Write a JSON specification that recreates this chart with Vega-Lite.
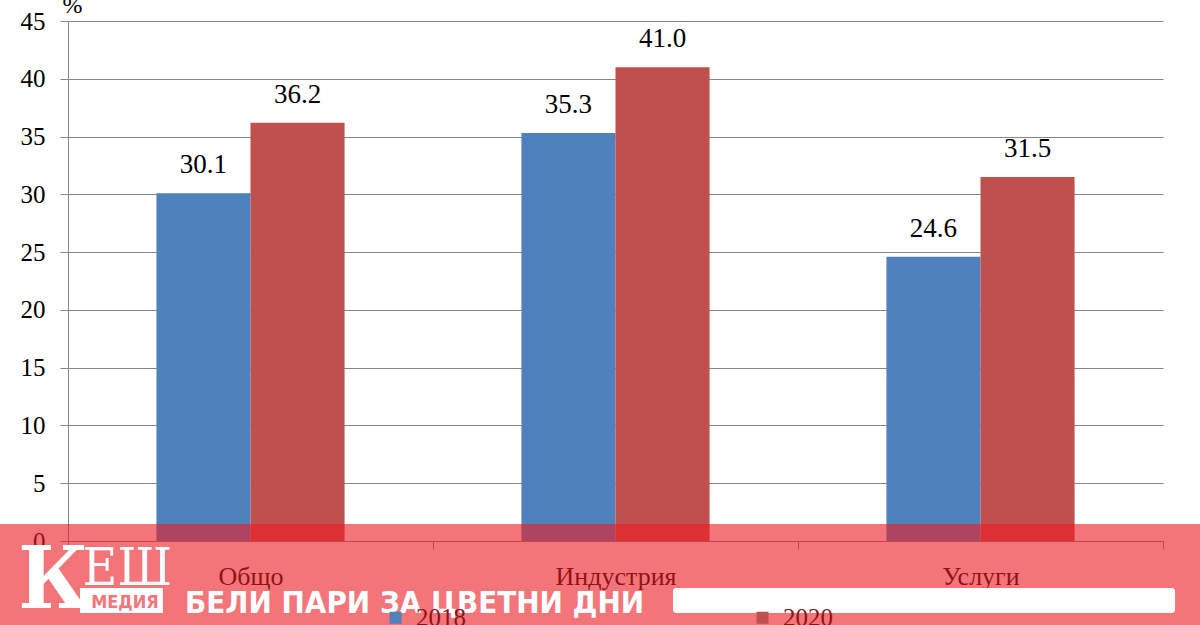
{
  "$schema": "https://vega.github.io/schema/vega-lite/v6.json",
  "width": 1095,
  "height": 520,
  "autosize": "none",
  "padding": {"left": 68, "top": 21, "right": 37, "bottom": 84},
  "background": "white",
  "config": {
    "view": {"stroke": null},
    "font": "Liberation Serif, Times New Roman, serif"
  },
  "data": {
    "values": [
      {"sector": "Общо", "year": "2018", "share": 30.1},
      {"sector": "Общо", "year": "2020", "share": 36.2},
      {"sector": "Индустрия", "year": "2018", "share": 35.3},
      {"sector": "Индустрия", "year": "2020", "share": 41.0},
      {"sector": "Услуги", "year": "2018", "share": 24.6},
      {"sector": "Услуги", "year": "2020", "share": 31.5}
    ]
  },
  "layer": [
    {
      "encoding": {
        "x": {
          "field": "sector",
          "type": "nominal",
          "sort": ["Общо", "Индустрия", "Услуги"],
          "scale": {"paddingInner": 0, "paddingOuter": 0},
          "axis": {
            "title": null,
            "labelAngle": 0,
            "labelFont": "Liberation Serif, Times New Roman, serif",
            "labelFontSize": 26,
            "labelColor": "black",
            "labelPadding": 14,
            "tickBand": "extent",
            "tickSize": 8,
            "tickColor": "#868686",
            "domainColor": "#868686",
            "grid": false
          }
        },
        "xOffset": {
          "field": "year",
          "type": "nominal",
          "scale": {"paddingInner": 0, "paddingOuter": 0.94}
        },
        "y": {
          "field": "share",
          "type": "quantitative",
          "scale": {"domain": [0, 45], "nice": false},
          "axis": {
            "values": [0, 5, 10, 15, 20, 25, 30, 35, 40, 45],
            "title": "%",
            "titleAngle": 0,
            "titleAlign": "left",
            "titleBaseline": "alphabetic",
            "titleX": -6,
            "titleY": -9,
            "titleFont": "Liberation Serif, Times New Roman, serif",
            "titleFontSize": 24,
            "titleFontWeight": "normal",
            "labelFont": "Liberation Serif, Times New Roman, serif",
            "labelFontSize": 25,
            "labelColor": "black",
            "labelPadding": 15,
            "tickSize": 8,
            "tickColor": "#868686",
            "domainColor": "#868686",
            "gridColor": "#868686"
          }
        }
      },
      "layer": [
        {
          "mark": {"type": "bar"},
          "encoding": {
            "color": {
              "field": "year",
              "type": "nominal",
              "scale": {"range": ["#4F81BD", "#C0504D"]},
              "legend": {
                "orient": "none",
                "legendX": 315,
                "legendY": 584,
                "direction": "horizontal",
                "title": null,
                "symbolType": "square",
                "symbolSize": 144,
                "symbolStrokeWidth": 0,
                "labelFont": "Liberation Serif, Times New Roman, serif",
                "labelFontSize": 25,
                "labelColor": "#8f1216",
                "labelOffset": 8,
                "columnPadding": 284,
                "padding": 0
              }
            }
          }
        },
        {
          "mark": {"type": "text", "baseline": "alphabetic", "dy": -20, "fontSize": 27, "font": "Liberation Serif, Times New Roman, serif", "color": "black"},
          "encoding": {
            "text": {"field": "share", "type": "quantitative", "format": ".1f"}
          }
        }
      ]
    },
    {
      "data": {"values": [{"part": "banner"}]},
      "mark": {"type": "rect", "color": "#EB1E24", "opacity": 0.61},
      "encoding": {
        "x": {"datum": "Общо", "bandPosition": -0.19},
        "x2": {"datum": "Услуги", "bandPosition": 1.11},
        "y": {"datum": 1.47},
        "y2": {"datum": -8}
      }
    },
    {
      "data": {"values": [{"part": "box"}]},
      "mark": {"type": "rect", "color": "white", "opacity": 1},
      "encoding": {
        "x": {"datum": "Общо", "bandPosition": 0.033},
        "x2": {"datum": "Общо", "bandPosition": 0.26},
        "y": {"datum": -4.07},
        "y2": {"datum": -6.23}
      }
    },
    {
      "data": {"values": [{"part": "bar"}]},
      "mark": {"type": "rect", "color": "white", "opacity": 1, "cornerRadius": 3},
      "encoding": {
        "x": {"datum": "Индустрия", "bandPosition": 0.6575},
        "x2": {"datum": "Услуги", "bandPosition": 1.033},
        "y": {"datum": -4.07},
        "y2": {"datum": -6.23}
      }
    },
    {
      "data": {"values": [{"part": "K"}]},
      "mark": {"type": "text", "text": "К", "font": "DejaVu Serif Condensed", "fontWeight": "bold", "fontSize": 86, "color": "white", "align": "center", "baseline": "alphabetic"},
      "encoding": {
        "x": {"datum": "Общо", "bandPosition": -0.04},
        "y": {"datum": -5.8}
      }
    },
    {
      "data": {"values": [{"part": "ESH"}]},
      "mark": {"type": "text", "text": "ЕШ", "font": "DejaVu Serif Condensed", "fontSize": 53, "color": "white", "align": "left", "baseline": "alphabetic"},
      "encoding": {
        "x": {"datum": "Общо", "bandPosition": 0.04},
        "y": {"datum": -3.81}
      }
    },
    {
      "data": {"values": [{"part": "media"}]},
      "mark": {"type": "text", "text": "МЕДИЯ", "font": "DejaVu Sans Condensed", "fontWeight": "bold", "fontSize": 18, "color": "#F3767A", "align": "center", "baseline": "alphabetic"},
      "encoding": {
        "x": {"datum": "Общо", "bandPosition": 0.156},
        "y": {"datum": -5.8}
      }
    },
    {
      "data": {"values": [{"part": "slogan"}]},
      "mark": {"type": "text", "text": "БЕЛИ ПАРИ ЗА ЦВЕТНИ ДНИ", "font": "DejaVu Sans Condensed", "fontWeight": "bold", "fontSize": 31, "color": "white", "align": "left", "baseline": "alphabetic"},
      "encoding": {
        "x": {"datum": "Общо", "bandPosition": 0.3205},
        "y": {"datum": -6.23}
      }
    }
  ]
}
